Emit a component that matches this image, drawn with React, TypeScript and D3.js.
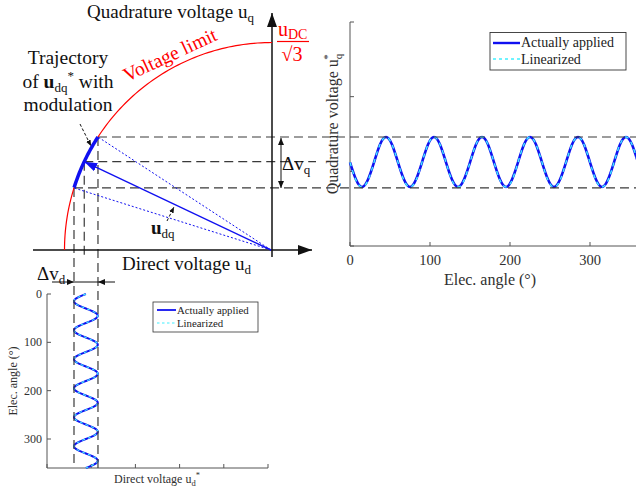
import React from 'react'
import * as d3 from 'd3'

// electrical angle samples (deg), shared by both plots
const angles = [0, 7.5, 15, 22.5, 30, 37.5, 45, 52.5, 60, 67.5, 75, 82.5, 90, 97.5, 105, 112.5, 120, 127.5, 135, 142.5, 150, 157.5, 165, 172.5, 180, 187.5, 195, 202.5, 210, 217.5, 225, 232.5, 240, 247.5, 255, 262.5, 270, 277.5, 285, 292.5, 300, 307.5, 315, 322.5, 330, 337.5, 345, 352.5, 360]

// quadrature voltage u_q*
const uqApplied = [1.12, 0.89, 0.79, 0.89, 1.12, 1.36, 1.46, 1.36, 1.12, 0.89, 0.79, 0.89, 1.12, 1.36, 1.46, 1.36, 1.12, 0.89, 0.79, 0.89, 1.12, 1.36, 1.46, 1.36, 1.12, 0.89, 0.79, 0.89, 1.12, 1.36, 1.46, 1.36, 1.12, 0.89, 0.79, 0.89, 1.12, 1.36, 1.46, 1.36, 1.12, 0.89, 0.79, 0.89, 1.12, 1.36, 1.46, 1.36, 1.12]
const uqLinearized = [1.12, 0.88, 0.79, 0.88, 1.12, 1.36, 1.46, 1.36, 1.12, 0.88, 0.79, 0.88, 1.12, 1.36, 1.46, 1.36, 1.12, 0.88, 0.79, 0.88, 1.12, 1.36, 1.46, 1.36, 1.12, 0.88, 0.79, 0.88, 1.12, 1.36, 1.46, 1.36, 1.12, 0.88, 0.79, 0.88, 1.12, 1.36, 1.46, 1.36, 1.12, 0.88, 0.79, 0.88, 1.12, 1.36, 1.46, 1.36, 1.12]

// direct voltage u_d*
const udApplied = [0.88, 0.69, 0.61, 0.69, 0.88, 1.07, 1.15, 1.07, 0.88, 0.69, 0.61, 0.69, 0.88, 1.07, 1.15, 1.07, 0.88, 0.69, 0.61, 0.69, 0.88, 1.07, 1.15, 1.07, 0.88, 0.69, 0.61, 0.69, 0.88, 1.07, 1.15, 1.07, 0.88, 0.69, 0.61, 0.69, 0.88, 1.07, 1.15, 1.07, 0.88, 0.69, 0.61, 0.69, 0.88, 1.07, 1.15, 1.07, 0.88]
const udLinearized = [0.88, 0.69, 0.61, 0.69, 0.88, 1.07, 1.15, 1.07, 0.88, 0.69, 0.61, 0.69, 0.88, 1.07, 1.15, 1.07, 0.88, 0.69, 0.61, 0.69, 0.88, 1.07, 1.15, 1.07, 0.88, 0.69, 0.61, 0.69, 0.88, 1.07, 1.15, 1.07, 0.88, 0.69, 0.61, 0.69, 0.88, 1.07, 1.15, 1.07, 0.88, 0.69, 0.61, 0.69, 0.88, 1.07, 1.15, 1.07, 0.88]

const angleTicks = [0, 100, 200, 300]
const uqTicks = [0, 1, 2, 3]
const udTicks = [0, 1, 2, 3, 4, 5]

// phasor diagram: angle of u_dq* on the voltage limit (deg) - upper, mean, lower
const trajectoryDeg = [147, 154.8, 162.6]
const limitDeg = [90, 180]

const seriesNames = ['Actually applied', 'Linearized']

const FONT = '"Liberation Serif", "Times New Roman", serif'
const BLUE = '#1010f0'
const CYAN = '#40f0ff'
const AX = '#555'
const TXT = '#303030'
const DASH = '#3a3a3a'

export default function App() {
  // right plot
  const xR = d3.scaleLinear().domain([0, 360]).range([350, 638])
  const yR = d3.scaleLinear().domain([0, 3]).range([246, 22])
  const lineR = d3.line<number>()
    .x((_, i) => xR(angles[i]))
    .y(d => yR(d))
    .curve(d3.curveNatural)

  // bottom plot
  const xB = d3.scaleLinear().domain([0, 5]).range([47, 268])
  const yB = d3.scaleLinear().domain([0, 360]).range([294, 468])
  const lineB = d3.line<number>()
    .x(d => xB(d))
    .y((_, i) => yB(angles[i]))
    .curve(d3.curveNatural)

  // phasor diagram, unit radius = u_DC/sqrt(3)
  const xD = d3.scaleLinear().domain([-1, 0]).range([64.5, 272])
  const yD = d3.scaleLinear().domain([0, 1]).range([250, 42.5])
  const pt = (deg: number): [number, number] => {
    const a = deg * Math.PI / 180
    return [xD(Math.cos(a)), yD(Math.sin(a))]
  }
  const O: [number, number] = [xD(0) - 1, yD(0)]
  const [B, M, A] = trajectoryDeg.map(pt)
  const arcLine = d3.line()
  const limitPath = arcLine(d3.range(limitDeg[0], limitDeg[1] + 0.01, 1).map(pt)) || ''
  const trajPath = arcLine(d3.range(trajectoryDeg[0], trajectoryDeg[2] + 0.01, 0.5).map(pt)) || ''

  return (
    <svg width={636} height={493} fontFamily={FONT}
      style={{ position: 'absolute', left: 0, top: 0, background: '#fff' }}>
      <defs>
        <marker id="axHead" markerUnits="userSpaceOnUse" markerWidth={14} markerHeight={10}
          refX={14} refY={5} orient="auto">
          <path d="M0,0 L14,5 L0,10 z" fill="#111" />
        </marker>
        <marker id="blueHead" markerUnits="userSpaceOnUse" markerWidth={13} markerHeight={9}
          refX={13} refY={4.5} orient="auto">
          <path d="M0,0 L13,4.5 L0,9 z" fill={BLUE} />
        </marker>
        <marker id="smallHead" markerUnits="userSpaceOnUse" markerWidth={6} markerHeight={5}
          refX={6} refY={2.5} orient="auto">
          <path d="M0,0 L6,2.5 L0,5 z" fill="#111" />
        </marker>
        <marker id="dHead" markerUnits="userSpaceOnUse" markerWidth={7} markerHeight={6}
          refX={7} refY={3} orient="auto-start-reverse">
          <path d="M0,0 L7,3 L0,6 z" fill="#111" />
        </marker>
      </defs>

      {/* ---------- right plot ---------- */}
      <g>
        <line x1={350} y1={yR(3)} x2={350} y2={246} stroke={AX} strokeWidth={1} />
        <line x1={350} y1={246} x2={636} y2={246} stroke={AX} strokeWidth={1} />
        {uqTicks.map(t => (
          <line key={'yt' + t} x1={350} x2={354} y1={yR(t)} y2={yR(t)} stroke={AX} />
        ))}
        {angleTicks.map(t => (
          <g key={'xt' + t}>
            <line x1={xR(t)} x2={xR(t)} y1={246} y2={242} stroke={AX} />
            <text x={xR(t)} y={265} textAnchor="middle" fontSize={14.5} fill={TXT}>{t}</text>
          </g>
        ))}
        <text x={490} y={285} textAnchor="middle" fontSize={16} fill={TXT}>Elec. angle (°)</text>
        <text transform="translate(338,124) rotate(-90)" textAnchor="middle" fontSize={16} fill={TXT}>
          Quadrature voltage u<tspan fontSize={11} dy={4}>q</tspan><tspan fontSize={11} dx={-6} dy={-11}>*</tspan>
        </text>
        <path d={lineR(uqApplied) || ''} fill="none" stroke={BLUE} strokeWidth={2.6} />
        <path d={lineR(uqLinearized) || ''} fill="none" stroke={CYAN} strokeWidth={1.4} strokeDasharray="4,4" />

        <rect x={490} y={32.5} width={136} height={37.5} fill="#fff" stroke="#333" strokeWidth={0.9} />
        <line x1={493} x2={520} y1={43} y2={43} stroke={BLUE} strokeWidth={2.4} />
        <text x={521} y={47} fontSize={14} fill="#222">{seriesNames[0]}</text>
        <line x1={493} x2={520} y1={59} y2={59} stroke={CYAN} strokeWidth={1.4} strokeDasharray="3,3" />
        <text x={521} y={64} fontSize={14} fill="#222">{seriesNames[1]}</text>
      </g>

      {/* ---------- bottom plot ---------- */}
      <g>
        <line x1={47} y1={294} x2={47} y2={468} stroke={AX} />
        <line x1={47} y1={468} x2={268} y2={468} stroke={AX} />
        {angleTicks.map(t => (
          <g key={'byt' + t}>
            <line x1={47} x2={51} y1={yB(t)} y2={yB(t)} stroke={AX} />
            <text x={42} y={yB(t) + 4} textAnchor="end" fontSize={12} fill={TXT}>{t}</text>
          </g>
        ))}
        {udTicks.map(t => (
          <line key={'bxt' + t} x1={xB(t)} x2={xB(t)} y1={468} y2={464} stroke={AX} />
        ))}
        <text x={157} y={483} textAnchor="middle" fontSize={12} fill={TXT}>
          Direct voltage u<tspan fontSize={8.5} dy={3}>d</tspan><tspan fontSize={8.5} dy={-8}>*</tspan>
        </text>
        <text transform="translate(17,381) rotate(-90)" textAnchor="middle" fontSize={12} fill={TXT}>
          Elec. angle (°)
        </text>
        <path d={lineB(udApplied) || ''} fill="none" stroke={BLUE} strokeWidth={2} />
        <path d={lineB(udLinearized) || ''} fill="none" stroke={CYAN} strokeWidth={1.1} strokeDasharray="3,3" />

        <rect x={153} y={302} width={105} height={30} fill="#fff" stroke="#333" strokeWidth={0.8} />
        <line x1={157} x2={176} y1={310} y2={310} stroke={BLUE} strokeWidth={1.8} />
        <text x={177} y={313.5} fontSize={10.8} fill="#222">{seriesNames[0]}</text>
        <line x1={157} x2={176} y1={323} y2={323} stroke={CYAN} strokeWidth={1.1} strokeDasharray="2.5,2.5" />
        <text x={177} y={327} fontSize={10.8} fill="#222">{seriesNames[1]}</text>
      </g>

      {/* ---------- phasor diagram ---------- */}
      <g>
        {/* projections */}
        <line x1={B[0]} y1={B[1]} x2={636} y2={B[1]} stroke={DASH} strokeWidth={1.2} strokeDasharray="9,5" />
        <line x1={A[0]} y1={A[1]} x2={636} y2={A[1]} stroke={DASH} strokeWidth={1.2} strokeDasharray="9,5" />
        <line x1={M[0]} y1={M[1]} x2={316} y2={M[1]} stroke={DASH} strokeWidth={1.2} strokeDasharray="9,5" />
        <line x1={A[0]} y1={A[1]} x2={A[0]} y2={468} stroke={DASH} strokeWidth={1.2} strokeDasharray="9,5" />
        <line x1={B[0]} y1={B[1]} x2={B[0]} y2={468} stroke={DASH} strokeWidth={1.2} strokeDasharray="9,5" />
        <line x1={M[0]} y1={M[1]} x2={M[0]} y2={257} stroke={DASH} strokeWidth={1.2} strokeDasharray="9,5" />

        {/* axes */}
        <line x1={33} y1={O[1]} x2={312} y2={O[1]} stroke="#111" strokeWidth={1.5} markerEnd="url(#axHead)" />
        <line x1={xD(0)} y1={257} x2={xD(0)} y2={13} stroke="#111" strokeWidth={1.5} markerEnd="url(#axHead)" />

        {/* voltage limit */}
        <path d={limitPath} fill="none" stroke="#f00" strokeWidth={1.2} />

        {/* vectors */}
        <line x1={O[0]} y1={O[1]} x2={B[0]} y2={B[1]} stroke={BLUE} strokeWidth={1} strokeDasharray="2,2" />
        <line x1={O[0]} y1={O[1]} x2={A[0]} y2={A[1]} stroke={BLUE} strokeWidth={1} strokeDasharray="2,2" />
        <line x1={O[0]} y1={O[1]} x2={M[0]} y2={M[1]} stroke={BLUE} strokeWidth={1.4} markerEnd="url(#blueHead)" />
        <path d={trajPath} fill="none" stroke={BLUE} strokeWidth={3.5} />

        {/* pointers */}
        <line x1={80} y1={124} x2={91} y2={146} stroke="#111" strokeWidth={1} strokeDasharray="3,2" markerEnd="url(#smallHead)" />
        <line x1={167} y1={221} x2={174} y2={207} stroke="#111" strokeWidth={1} strokeDasharray="3,2" markerEnd="url(#smallHead)" />

        {/* delta arrows */}
        <line x1={281} y1={B[1] + 1} x2={281} y2={A[1]} stroke="#111" strokeWidth={1}
          markerStart="url(#dHead)" markerEnd="url(#dHead)" />
        <line x1={52} y1={282} x2={A[0]} y2={282} stroke="#111" strokeWidth={1} markerEnd="url(#dHead)" />
        <line x1={A[0]} y1={282} x2={B[0]} y2={282} stroke="#111" strokeWidth={1} />
        <line x1={115} y1={282} x2={B[0]} y2={282} stroke="#111" strokeWidth={1} markerEnd="url(#dHead)" />

        {/* labels */}
        <text x={87} y={18} fontSize={19} fill="#111">
          Quadrature voltage u<tspan fontSize={13} dy={4}>q</tspan>
        </text>
        <text x={122} y={270} fontSize={19} fill="#111">
          Direct voltage u<tspan fontSize={13} dy={4}>d</tspan>
        </text>
        <text transform="translate(127,82) rotate(-25)" fontSize={19.5} fill="#f00">Voltage limit</text>

        <text x={278} y={36} fontSize={20} fill="#f00">
          u<tspan fontSize={14} dy={3}>DC</tspan>
        </text>
        <line x1={277} x2={309} y1={41.5} y2={41.5} stroke="#f00" strokeWidth={1.2} />
        <text x={292} y={61} textAnchor="middle" fontSize={20} fill="#f00">√3</text>

        <text x={68} y={64} textAnchor="middle" fontSize={19.5} fill="#111">Trajectory</text>
        <text x={68} y={88} textAnchor="middle" fontSize={19.5} fill="#111">
          of <tspan fontWeight="bold">u</tspan><tspan fontSize={13} dy={4}>dq</tspan><tspan fontSize={13} dy={-12}>*</tspan><tspan dy={8}> with</tspan>
        </text>
        <text x={68} y={111} textAnchor="middle" fontSize={19.5} fill="#111">modulation</text>

        <text x={151} y={234} fontSize={19} fill="#111">
          <tspan fontWeight="bold">u</tspan><tspan fontSize={13} dy={4}>dq</tspan>
        </text>
        <text x={282} y={170} fontSize={19} fill="#111">
          Δv<tspan fontSize={13} dy={4}>q</tspan>
        </text>
        <text x={37} y={280} fontSize={19} fill="#111">
          Δv<tspan fontSize={13} dy={4}>d</tspan>
        </text>
      </g>
    </svg>
  )
}
